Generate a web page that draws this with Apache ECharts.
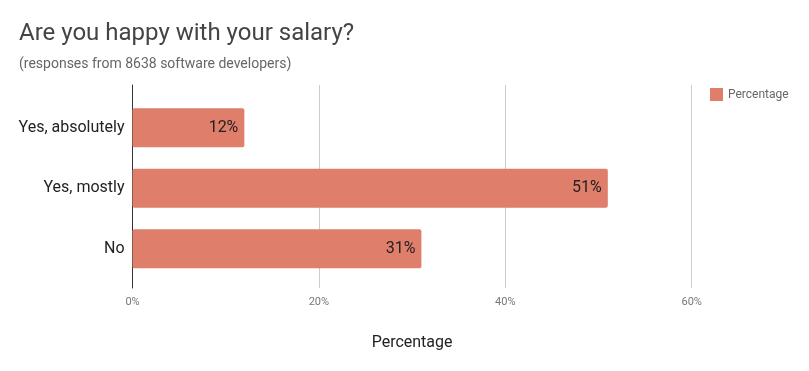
<!DOCTYPE html>
<html><head><meta charset="utf-8">
<script src="https://cdn.jsdelivr.net/npm/echarts@6/dist/echarts.min.js"></script>
<style>html,body{margin:0;padding:0;background:#fff}#c{width:809px;height:371px}</style>
</head><body><div id="c"></div>
<script>
const categories = ["Yes, absolutely", "Yes, mostly", "No"];
const values = [12, 51, 31];
const tickValues = [0, 20, 40, 60];
const seriesName = "Percentage";

const chart = echarts.init(document.getElementById('c'), null, {renderer: 'canvas'});
const font = 'Roboto';
chart.setOption({
  animation: false,
  textStyle: {fontFamily: font},
  title: [
    {text: 'Are you happy with your salary?', left: 14, top: 17,
     textStyle: {fontFamily: font, fontSize: 24, fontWeight: 'normal', color: '#444'}},
    {text: '(responses from 8638 software developers)', left: 14, top: 52,
     textStyle: {fontFamily: font, fontSize: 14, fontWeight: 'normal', color: '#666'}}
  ],
  legend: {
    data: [seriesName], left: 705, top: 83, itemWidth: 13, itemHeight: 13, itemGap: 6,
    icon: 'rect', textStyle: {fontFamily: font, fontSize: 12, color: '#666'}
  },
  grid: [
    {left: 132.5, width: 559.2, top: 97.5, height: 181.5},
    {left: 132.5, width: 559.2, top: 85, height: 203}
  ],
  xAxis: [
    {gridIndex: 0, type: 'value', min: 0, max: 60, interval: 20, show: false},
    {gridIndex: 1, type: 'value', min: 0, max: 60, interval: 20,
     axisLine: {show: false}, axisTick: {show: false},
     splitLine: {lineStyle: {color: '#cccccc', width: 1}},
     axisLabel: {formatter: v => v + '%', color: '#777', fontSize: 11, fontFamily: font, margin: 9},
     name: 'Percentage', nameLocation: 'middle', nameGap: 47,
     nameTextStyle: {fontFamily: font, fontSize: 16, color: '#222'}}
  ],
  yAxis: [
    {gridIndex: 0, type: 'category', data: categories, inverse: true,
     axisLine: {show: false}, axisTick: {show: false}, splitLine: {show: false},
     axisLabel: {color: '#222', fontSize: 16, fontFamily: font, margin: 8}},
    {gridIndex: 1, type: 'value', min: 0, max: 1,
     axisLine: {show: true, onZero: false, lineStyle: {color: '#333', width: 1}},
     axisTick: {show: false}, axisLabel: {show: false}, splitLine: {show: false}}
  ],
  series: [{
    name: seriesName, type: 'bar', xAxisIndex: 0, yAxisIndex: 0,
    data: values, barWidth: 39,
    itemStyle: {color: '#df7e6a', borderRadius: 2},
    label: {show: true, position: 'insideRight', formatter: p => p.value + '%',
            color: '#222', fontSize: 16, fontFamily: font, distance: 6}
  }]
});
</script></body></html>
